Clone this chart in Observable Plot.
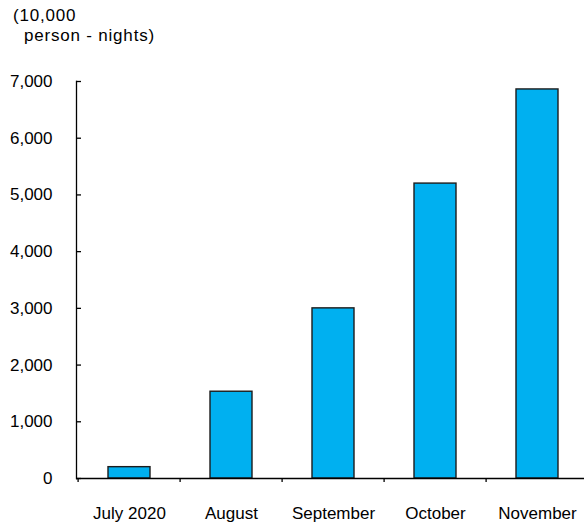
<!DOCTYPE html>
<html>
<head>
<meta charset="utf-8">
<script src="https://cdn.jsdelivr.net/npm/d3@7"></script>
<script src="https://cdn.jsdelivr.net/npm/@observablehq/plot@0.6"></script>
<style>
  html, body { margin: 0; padding: 0; background: #fff; }
  #wrap { position: relative; width: 584px; height: 522px; overflow: hidden; }
  #unit {
    position: absolute; left: 13px; top: 6px;
    font: 17px "Liberation Sans", Arial, sans-serif; line-height: 20px;
    letter-spacing: 0.8px; color: #000;
  }
  #unit .l2 { padding-left: 11px; }
  svg { display: block; }
</style>
</head>
<body>
<div id="wrap">
  <div id="unit"><div>(10,000</div><div class="l2">person - nights)</div></div>
</div>
<script>
// Monthly guest nights, in units of 10,000 person-nights
const months = ["July 2020", "August", "September", "October", "November"];
const nights = [200, 1530, 3000, 5200, 6860];
const yTicks = [0, 1000, 2000, 3000, 4000, 5000, 6000, 7000];

const data = months.map((m, i) => ({month: m, value: nights[i]}));

const W = 584, H = 522;
const mL = 76, mR = -6, mT = 81, mB = 44;
const step = (W - mL - mR) / months.length;

const chart = Plot.plot({
  width: W,
  height: H,
  marginLeft: mL,
  marginRight: mR,
  marginTop: mT,
  marginBottom: mB,
  style: {fontFamily: "'Liberation Sans', Arial, sans-serif", fontSize: "17px", color: "#000", background: "transparent"},
  x: {domain: months, paddingInner: 0.59, paddingOuter: 0.295, label: null, axis: null},
  y: {domain: [0, 7000], label: null, axis: null},
  marks: [
    Plot.barY(data, {x: "month", y: "value", fill: "#00b0f0", stroke: "#1c1c1c", strokeWidth: 1.4}),
    Plot.frame({anchor: "left", stroke: "#000", strokeWidth: 1.3}),
    Plot.ruleY([0], {stroke: "#000", strokeWidth: 1.3}),
    Plot.axisY(yTicks, {tickSize: -5, tickFormat: () => "", strokeWidth: 1.3, label: null}),
    Plot.axisY(yTicks, {tickSize: 0, tickPadding: 24, tickFormat: d3.format(","), label: null}),
    Plot.axisX({tickSize: 4, tickFormat: () => "", dx: -step / 2, strokeWidth: 1.3, label: null}),
    Plot.axisX({tickSize: 0, tickPadding: 28, label: null})
  ]
});

document.getElementById("wrap").prepend(chart);
</script>
</body>
</html>
